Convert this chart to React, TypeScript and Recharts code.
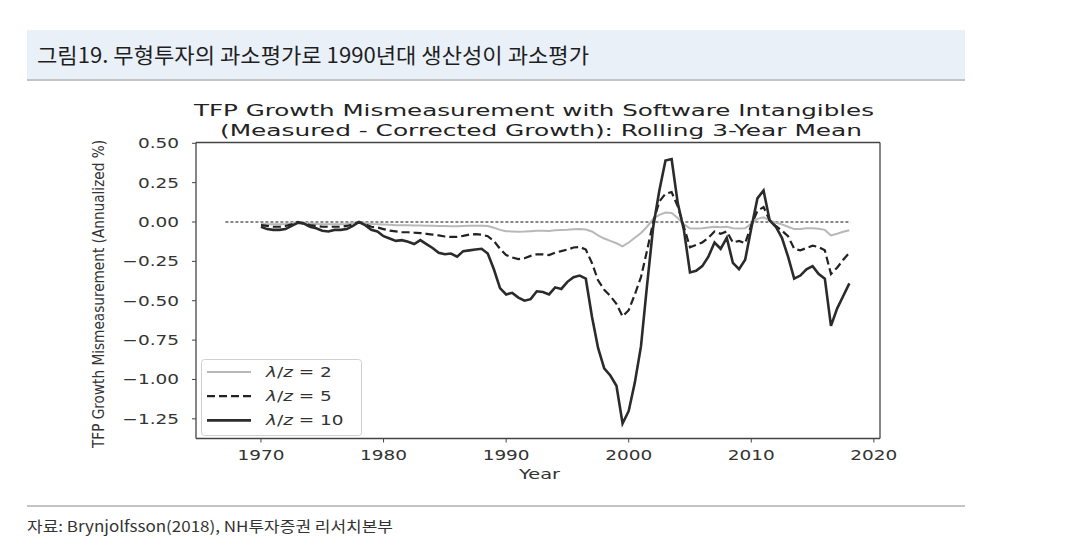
import React from "react"
import {
  LineChart,
  Line,
  XAxis,
  YAxis,
  ReferenceLine,
} from "recharts"

// half-year steps, 1970 - 2018
const years = [
  1970, 1970.5, 1971, 1971.5, 1972, 1972.5, 1973, 1973.5, 1974, 1974.5,
  1975, 1975.5, 1976, 1976.5, 1977, 1977.5, 1978, 1978.5, 1979, 1979.5,
  1980, 1980.5, 1981, 1981.5, 1982, 1982.5, 1983, 1983.5, 1984, 1984.5,
  1985, 1985.5, 1986, 1986.5, 1987, 1987.5, 1988, 1988.5, 1989, 1989.5,
  1990, 1990.5, 1991, 1991.5, 1992, 1992.5, 1993, 1993.5, 1994, 1994.5,
  1995, 1995.5, 1996, 1996.5, 1997, 1997.5, 1998, 1998.5, 1999, 1999.5,
  2000, 2000.5, 2001, 2001.5, 2002, 2002.5, 2003, 2003.5, 2004, 2004.5,
  2005, 2005.5, 2006, 2006.5, 2007, 2007.5, 2008, 2008.5, 2009, 2009.5,
  2010, 2010.5, 2011, 2011.5, 2012, 2012.5, 2013, 2013.5, 2014, 2014.5,
  2015, 2015.5, 2016, 2016.5, 2017, 2017.5, 2018,
]

// lambda/z = 2
const lam2 = [
  -0.012, -0.015, -0.015, -0.015, -0.012, -0.008, 0.0, -0.005, -0.01, -0.012,
  -0.015, -0.015, -0.015, -0.015, -0.012, -0.006, 0.0, -0.006, -0.012, -0.014,
  -0.016, -0.018, -0.02, -0.02, -0.021, -0.022, -0.022, -0.023, -0.024, -0.025,
  -0.026, -0.027, -0.027, -0.025, -0.024, -0.023, -0.023, -0.026, -0.036, -0.05,
  -0.058, -0.06, -0.062, -0.061, -0.058, -0.056, -0.056, -0.057, -0.053, -0.051,
  -0.049, -0.046, -0.045, -0.048, -0.06, -0.085, -0.105, -0.12, -0.135, -0.155,
  -0.13, -0.1, -0.07, -0.03, 0.02, 0.045, 0.06, 0.058, 0.025, -0.015,
  -0.04, -0.042, -0.04, -0.035, -0.03, -0.033, -0.03, -0.04, -0.042, -0.04,
  -0.01, 0.02, 0.03, 0.01, -0.005, -0.015, -0.03, -0.045, -0.045, -0.04,
  -0.04, -0.043, -0.05, -0.085, -0.075, -0.062, -0.052,
]

// lambda/z = 5
const lam5 = [
  -0.02, -0.025, -0.03, -0.03, -0.025, -0.015, 0.0, -0.01, -0.02, -0.025,
  -0.03, -0.03, -0.03, -0.03, -0.025, -0.015, 0.0, -0.015, -0.03, -0.035,
  -0.045, -0.055, -0.06, -0.065, -0.065, -0.068, -0.07, -0.075, -0.08, -0.085,
  -0.092, -0.095, -0.094, -0.088, -0.08, -0.077, -0.08, -0.09, -0.12, -0.17,
  -0.21, -0.225, -0.235, -0.23, -0.215, -0.205, -0.205, -0.21, -0.195, -0.185,
  -0.175, -0.162, -0.158, -0.175, -0.26, -0.37, -0.43, -0.47, -0.52, -0.6,
  -0.56, -0.46, -0.35, -0.18, 0.0, 0.13, 0.18, 0.19, 0.1, -0.03,
  -0.16, -0.145, -0.13, -0.1, -0.06, -0.075, -0.06, -0.13, -0.12, -0.135,
  -0.02, 0.07, 0.095, 0.01, -0.025, -0.055, -0.09, -0.17, -0.18, -0.165,
  -0.15, -0.16, -0.18, -0.33, -0.29, -0.24, -0.195,
]

// lambda/z = 10
const lam10 = [
  -0.03, -0.045, -0.05, -0.05, -0.045, -0.025, -0.005, -0.01, -0.03, -0.04,
  -0.055, -0.06, -0.05, -0.05, -0.045, -0.025, 0.0, -0.02, -0.05, -0.06,
  -0.09, -0.105, -0.12, -0.115, -0.125, -0.14, -0.115, -0.14, -0.165, -0.195,
  -0.205, -0.2, -0.22, -0.185, -0.18, -0.175, -0.17, -0.2, -0.3, -0.42,
  -0.46, -0.45, -0.48, -0.5, -0.49, -0.44, -0.445, -0.46, -0.415, -0.425,
  -0.38, -0.35, -0.34, -0.36, -0.6, -0.8, -0.93, -0.975, -1.04, -1.28,
  -1.2, -1.02, -0.79, -0.4, -0.03, 0.2, 0.39, 0.4, 0.12, -0.05,
  -0.32, -0.31, -0.28, -0.22, -0.13, -0.17, -0.1, -0.26, -0.3, -0.24,
  -0.04, 0.15, 0.2, 0.01, -0.03, -0.1, -0.22, -0.36, -0.34, -0.3,
  -0.28, -0.33, -0.36, -0.66, -0.55, -0.47, -0.39,
]

const xTicks = [1970, 1980, 1990, 2000, 2010, 2020]
const yTicks = [0.5, 0.25, 0, -0.25, -0.5, -0.75, -1.0, -1.25]
const legendLabels = ["2", "5", "10"]

const data = years.map((year, i) => ({
  year,
  l2: lam2[i],
  l5: lam5[i],
  l10: lam10[i],
}))

const X_DOMAIN: [number, number] = [1964.7, 2020.5]
const Y_DOMAIN: [number, number] = [-1.375, 0.505]
const FONT = "'DejaVu Sans', sans-serif"
const STRETCH = 1.32
const frame = { stroke: "#444", strokeWidth: 1.3 }

const fmtY = (v: number) => {
  const s = Math.abs(v).toFixed(2)
  return v < 0 ? "\u2212" + s : s
}

const YTick = (props: any) => {
  const { x, y, payload } = props
  return (
    <g transform={`translate(${x},${y})`}>
      <text transform={`scale(${STRETCH},1)`} textAnchor="end" dy={5} fontSize={14} fill="#333" fontFamily={FONT}>
        {fmtY(payload.value)}
      </text>
    </g>
  )
}

const XTick = (props: any) => {
  const { x, y, payload } = props
  return (
    <g transform={`translate(${x},${y})`}>
      <text transform={`scale(${STRETCH},1)`} textAnchor="middle" dy={15.5} fontSize={14} fill="#333" fontFamily={FONT}>
        {payload.value}
      </text>
    </g>
  )
}

const legendStyles = [
  { stroke: "#b8b8b8", dash: undefined, width: 2 },
  { stroke: "#222", dash: "8 4", width: 2.2 },
  { stroke: "#2b2b2b", dash: undefined, width: 2.6 },
]

function ChartLegend() {
  return (
    <svg width={162} height={78} style={{ position: "absolute", left: 201, top: 359 }}>
      <rect x={0.5} y={0.5} width={160} height={76} rx={3} fill="#fff" fillOpacity={0.8} stroke="#d0d0d0" />
      {legendLabels.map((lab, i) => {
        const cy = 13 + i * 24.2
        const st = legendStyles[i]
        return (
          <g key={lab}>
            <line x1={6} x2={50} y1={cy} y2={cy} stroke={st.stroke} strokeWidth={st.width} strokeDasharray={st.dash} />
            <g transform={`translate(65,${cy + 5}) scale(${STRETCH},1)`}>
              <text fontSize={14} fill="#333" fontFamily={FONT}>
                <tspan fontStyle="italic">λ</tspan>/<tspan fontStyle="italic">z</tspan> = {lab}
              </text>
            </g>
          </g>
        )
      })}
    </svg>
  )
}

export default function App() {
  return (
    <div style={{ position: "absolute", left: 0, top: 0, width: 1080, height: 557, background: "#fff" }}>
      <svg width={1080} height={557} style={{ position: "absolute", left: 0, top: 0 }}>
        <rect x={27} y={30} width={938} height={49} fill="#eaf0f8" />
        <rect x={27} y={79} width={938} height={2} fill="#c4c4c4" />
        <text x={37} y={63} fontSize={21} fill="#1e1e1e" fontFamily="'Noto Sans CJK KR', sans-serif" textLength={552} lengthAdjust="spacingAndGlyphs">
          그림19. 무형투자의 과소평가로 1990년대 생산성이 과소평가
        </text>
        <text x={194} y={116} fontSize={16} fill="#222" fontFamily={FONT} textLength={680} lengthAdjust="spacingAndGlyphs">
          TFP Growth Mismeasurement with Software Intangibles
        </text>
        <text x={220} y={136} fontSize={16} fill="#222" fontFamily={FONT} textLength={642} lengthAdjust="spacingAndGlyphs">
          (Measured - Corrected Growth): Rolling 3-Year Mean
        </text>
        <text x={519} y={479} fontSize={14} fill="#333" fontFamily={FONT} textLength={41} lengthAdjust="spacingAndGlyphs">
          Year
        </text>
        <text transform="translate(104,294) rotate(-90) scale(1,1.25)" textAnchor="middle" fontSize={13} fill="#333" fontFamily="'Liberation Sans Narrow', 'DejaVu Sans Condensed', sans-serif" textLength={308} lengthAdjust="spacingAndGlyphs">
          TFP Growth Mismeasurement (Annualized %)
        </text>
        <rect x={27} y={505} width={938} height={2} fill="#c4c4c4" />
        <text x={27} y={532} fontSize={15} fill="#333" fontFamily="'Noto Sans CJK KR', sans-serif" textLength={366} lengthAdjust="spacingAndGlyphs">
          자료: Brynjolfsson(2018), NH투자증권 리서치본부
        </text>
      </svg>
      <div style={{ position: "absolute", left: 0, top: 0 }}>
        <LineChart
          width={1080}
          height={557}
          data={data}
          margin={{ top: 141.5, right: 199, bottom: 117.5, left: 195 }}
        >
          <XAxis
            dataKey="year"
            type="number"
            domain={X_DOMAIN}
            ticks={xTicks}
            height={1}
            tickSize={4}
            tickMargin={2}
            tick={<XTick />}
            axisLine={frame}
            tickLine={{ stroke: "#444" }}
            allowDataOverflow
          />
          <XAxis
            xAxisId="top"
            orientation="top"
            type="number"
            domain={X_DOMAIN}
            height={1}
            tick={false}
            tickLine={false}
            axisLine={frame}
            allowDataOverflow
          />
          <YAxis
            type="number"
            domain={Y_DOMAIN}
            ticks={yTicks}
            width={1}
            tickSize={4}
            tickMargin={13}
            tick={<YTick />}
            axisLine={frame}
            tickLine={{ stroke: "#444" }}
            allowDataOverflow
          />
          <YAxis
            yAxisId="right"
            orientation="right"
            type="number"
            domain={Y_DOMAIN}
            width={1}
            tick={false}
            tickLine={false}
            axisLine={frame}
            allowDataOverflow
          />
          <ReferenceLine
            segment={[{ x: 1967.1, y: 0 }, { x: 2018.1, y: 0 }]}
            stroke="#111"
            strokeWidth={1.1}
            strokeDasharray="3 2"
          />
          <Line type="linear" dataKey="l2" stroke="#b8b8b8" strokeWidth={2} dot={false} isAnimationActive={false} />
          <Line type="linear" dataKey="l5" stroke="#222" strokeWidth={2.2} strokeDasharray="8 4" dot={false} isAnimationActive={false} />
          <Line type="linear" dataKey="l10" stroke="#2b2b2b" strokeWidth={2.6} dot={false} isAnimationActive={false} />
        </LineChart>
      </div>
      <ChartLegend />
    </div>
  )
}
